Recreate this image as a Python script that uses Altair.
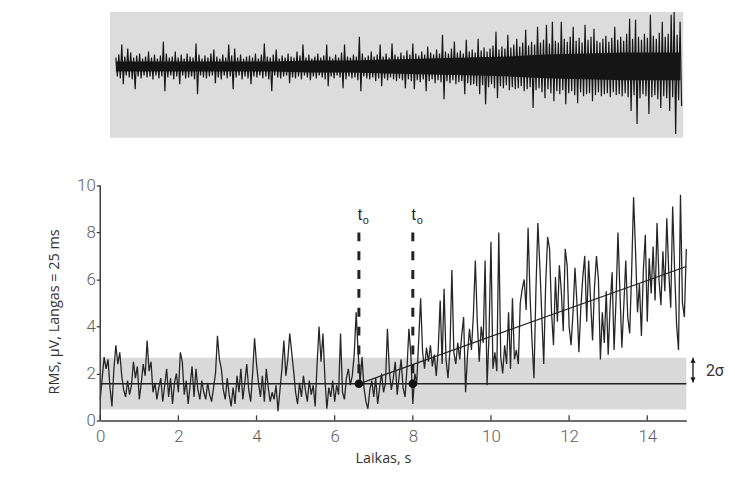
import altair as alt
import pandas as pd
import numpy as np

# ---------------- data ----------------
# RMS amplitude (µV), one value every 0.05 s from 0 to 15 s
rms_values = [
    0.9, 1.8, 2.7, 2.2, 2.6, 1.4, 0.6, 2.2, 3.2, 2.4, 2.9, 1.9, 1.3, 1.0, 1.7, 1.1, 1.5, 2.5, 1.8, 2.3,
    0.9, 1.6, 2.4, 1.9, 3.4, 2.1, 2.5, 1.2, 1.6, 0.9, 1.4, 1.8, 0.8, 1.5, 2.2, 1.0, 1.8, 0.7, 1.6, 2.0,
    1.2, 2.9, 2.5, 1.1, 1.7, 0.7, 1.5, 2.3, 1.0, 2.2, 1.3, 0.9, 1.7, 1.2, 0.9, 1.6, 1.1, 0.8, 1.4, 2.0,
    3.6, 2.6, 2.2, 1.3, 0.9, 1.8, 1.1, 0.6, 1.4, 0.7, 1.9, 1.2, 2.2, 0.9, 1.6, 2.4, 1.3, 0.8, 2.0, 3.5,
    2.4, 1.6, 1.0, 1.9, 0.8, 2.2, 1.4, 0.8, 1.2, 0.9, 1.5, 0.4, 1.3, 2.2, 3.4, 1.9, 2.6, 3.7, 2.9, 2.1,
    1.2, 0.7, 1.6, 1.0, 1.9, 1.3, 0.8, 1.7, 1.1, 1.5, 0.6, 2.4, 4.0, 2.5, 3.7, 1.8, 0.5, 1.4, 1.0, 1.7,
    0.8, 1.5, 1.1, 3.7, 1.2, 0.9, 1.8, 2.2, 1.5, 1.9, 2.8, 4.6, 2.9, 1.6, 2.7, 1.4, 0.8, 0.5, 1.3, 1.7,
    1.0, 1.8, 0.7, 1.4, 2.0, 1.2, 1.6, 3.9, 2.1, 1.3, 1.8, 2.5, 1.1, 1.9, 2.6, 1.4, 1.0, 2.2, 3.9, 2.8,
    0.7, 2.0, 1.6, 3.4, 5.2, 2.9, 2.2, 3.1, 2.5, 3.2, 2.3, 2.8, 1.9, 3.0, 5.1, 2.4, 5.6, 2.6, 1.8, 3.0,
    6.4, 2.9, 2.4, 3.3, 2.6, 3.6, 4.4, 1.2, 2.8, 3.9, 3.0, 4.5, 6.8, 4.2, 2.5, 4.0, 3.3, 6.8, 1.5, 3.6,
    7.6, 2.2, 2.9, 2.1, 8.0, 2.7, 2.0, 3.2, 2.4, 4.6, 2.2, 5.2, 2.6, 3.0, 2.4, 5.0, 5.6, 6.0, 4.7, 8.2,
    5.3, 3.4, 1.8, 5.5, 8.4, 6.6, 4.5, 2.4, 5.8, 7.8, 7.3, 4.6, 3.2, 6.1, 4.2, 6.6, 5.5, 3.8, 7.3, 6.6,
    4.0, 3.2, 4.6, 6.5, 5.0, 2.9, 4.8, 6.1, 7.0, 4.2, 6.8, 5.1, 3.4, 5.7, 7.0, 6.0, 2.6, 4.6, 3.3, 5.5,
    2.8, 4.9, 6.3, 3.0, 5.1, 8.0, 5.5, 3.1, 4.9, 6.8, 4.4, 3.7, 6.3, 9.5, 7.2, 4.6, 5.8, 3.6, 6.4, 7.9,
    4.2, 6.9, 5.4, 7.4, 5.1, 8.4, 6.0, 4.9, 7.2, 5.5, 8.6, 6.3, 4.8, 9.1, 6.4, 4.1, 3.0, 9.6, 5.0, 4.4,
    7.3,
]
rms_step = 0.05

# raw EMG trace (arbitrary units): upper and lower excursions of each sample
raw_upper = [
    9, 12, 22, 10, 18, 14, 9, 11, 13, 8,
    10, 15, 9, 12, 8, 11, 25, 13, 9, 10,
    15, 9, 12, 8, 13, 10, 9, 23, 12, 8,
    11, 9, 13, 17, 10, 8, 12, 9, 22, 11,
    18, 9, 12, 8, 10, 11, 9, 13, 8, 12,
    23, 10, 9, 12, 17, 8, 11, 9, 13, 10,
    9, 15, 11, 22, 9, 12, 8, 10, 13, 9,
    11, 22, 10, 8, 12, 9, 14, 22, 10, 9,
    12, 10, 30, 13, 9, 11, 15, 10, 12, 22,
    10, 13, 9, 23, 12, 10, 14, 11, 16, 12,
    23, 13, 11, 15, 12, 20, 14, 12, 17, 13,
    32, 15, 13, 18, 25, 14, 16, 13, 27, 15,
    17, 14, 28, 16, 19, 15, 18, 21, 35, 17,
    20, 18, 32, 19, 22, 28, 20, 24, 37, 21,
    25, 22, 40, 24, 27, 42, 23, 45, 26, 24,
    45, 28, 25, 30, 40, 26, 29, 24, 42, 27,
    30, 38, 26, 24, 28, 31, 25, 29, 40, 27,
    30, 26, 33, 48, 28, 47, 30, 27, 33, 29,
    52, 31, 28, 34, 45, 30, 33, 52, 55, 32,
    45,
]
raw_lower = [
    10, 12, 18, 9, 11, 13, 23, 10, 12, 9,
    11, 10, 13, 9, 12, 10, 25, 11, 9, 13,
    10, 18, 9, 12, 11, 10, 13, 28, 9, 11,
    12, 10, 9, 17, 11, 13, 9, 12, 10, 23,
    11, 9, 13, 10, 12, 18, 10, 11, 9, 12,
    10, 13, 25, 9, 11, 12, 10, 9, 17, 11,
    12, 10, 13, 9, 11, 14, 10, 12, 9, 11,
    13, 20, 10, 12, 9, 11, 22, 13, 10, 12,
    11, 14, 25, 10, 12, 13, 11, 15, 12, 20,
    12, 14, 11, 13, 15, 12, 14, 22, 13, 15,
    23, 14, 16, 13, 25, 15, 13, 17, 14, 16,
    33, 15, 17, 14, 18, 16, 15, 28, 17, 19,
    18, 20, 28, 19, 38, 21, 18, 22, 32, 20,
    22, 19, 24, 21, 23, 22, 20, 25, 23, 21,
    42, 24, 22, 26, 32, 23, 27, 35, 25, 28,
    24, 38, 27, 25, 29, 37, 26, 30, 28, 27,
    35, 29, 26, 30, 28, 27, 31, 26, 29, 28,
    30, 27, 31, 45, 29, 58, 32, 28, 30, 48,
    31, 29, 33, 42, 30, 32, 45, 31, 68, 34,
    40,
]
# dense core half-width of the raw trace, one value per second (0.4 s ... 14.4 s, end)
core_t = [0.4, 1.4, 2.4, 3.4, 4.4, 5.4, 6.4, 7.4, 8.4, 9.4, 10.4, 11.4, 12.4, 13.4, 14.4, 14.85]
core_half = [5, 5, 5, 5, 5, 6, 6, 7, 8, 9, 10, 12, 13, 14, 14, 14]

raw_start = 0.4
raw_step = 0.076
raw_center = 15.06
raw_units_per_y = 23.7
raw_panel = {"x1": 0.25, "x2": 14.92, "y1": 12.03, "y2": 17.38}

baseline = 1.56
band_lo, band_hi = 0.47, 2.67
onsets = [6.62, 8.0]
trend_end_x, trend_end_y = 15.0, 6.55
dash_top = 8.0
label_y = 8.52
sigma_x = 15.17
x_ticks = [0, 2, 4, 6, 8, 10, 12, 14]
y_ticks = [0, 2, 4, 6, 8, 10]

X_DOMAIN = [0, 15]
Y_DOMAIN = [0, 17.38]

# ---------------- tables ----------------
rms_df = pd.DataFrame({"t": np.arange(len(rms_values)) * rms_step, "rms": rms_values})

raw_rows = []
for i, (u, l) in enumerate(zip(raw_upper, raw_lower)):
    t = raw_start + i * raw_step
    raw_rows.append({"t": t, "v": raw_center + u / raw_units_per_y, "o": 2 * i})
    raw_rows.append({"t": t + raw_step / 2, "v": raw_center - l / raw_units_per_y, "o": 2 * i + 1})
raw_df = pd.DataFrame(raw_rows)
core_df = pd.DataFrame({
    "t": core_t,
    "hi": [raw_center + c / raw_units_per_y for c in core_half],
    "lo": [raw_center - c / raw_units_per_y for c in core_half],
})

panel_df = pd.DataFrame([raw_panel])
band_df = pd.DataFrame([{"x1": 0, "x2": 15, "y1": band_lo, "y2": band_hi}])
base_df = pd.DataFrame([{"x1": 0, "x2": 15, "y": baseline}])
trend_df = pd.DataFrame([{"x1": onsets[0], "y1": baseline, "x2": trend_end_x, "y2": trend_end_y}])
onset_df = pd.DataFrame({"x": onsets, "top": dash_top, "y": baseline, "ly": label_y})
arrow_df = pd.DataFrame([{"x": sigma_x, "y1": baseline + 0.06, "y2": band_hi}])
arrow_up = pd.DataFrame([{"x": sigma_x, "y": band_hi - 0.12}])
arrow_dn = pd.DataFrame([{"x": sigma_x, "y": baseline + 0.17}])
sig_df = pd.DataFrame([{"x": 15.5, "y": (band_hi + baseline) / 2, "label": "2σ"}])
yaxis_df = pd.DataFrame([{"x": 0, "y1": 0, "y2": 10}])
xtick_df = pd.DataFrame({"x": x_ticks, "y1": 0, "y2": 0.22})

AX_COL = "#3c3c3c"
LAB_COL = "#5e5e5e"
NUM_FONT = "Roboto"
TXT_FONT = "Open Sans"

X_SCALE = alt.Scale(domain=X_DOMAIN, nice=False, zero=False)
Y_SCALE = alt.Scale(domain=Y_DOMAIN, nice=False, zero=False)

X_AXIS = alt.Axis(values=x_ticks, format="d", grid=False, domain=True,
                  domainColor=AX_COL, domainWidth=1.5, ticks=False, tickSize=0,
                  labelPadding=8, labelFont=NUM_FONT, labelFontSize=17,
                  labelFontWeight=300, labelColor=LAB_COL, labelFlush=False,
                  title="Laikas, s", titleFont=TXT_FONT, titleFontSize=14.5,
                  titleFontWeight="normal", titleColor="#333333",
                  titleX=285, titleY=38, titleBaseline="middle", titleAlign="center")
Y_AXIS = alt.Axis(values=y_ticks, format="d", grid=False, domain=False,
                  ticks=True, tickSize=4, tickColor=AX_COL, tickWidth=1.3,
                  labelPadding=1, labelFont=NUM_FONT, labelFontSize=17,
                  labelFontWeight=300, labelColor=LAB_COL, labelFlush=False,
                  title="RMS, μV, Langas = 25 ms", titleFont=TXT_FONT,
                  titleFontSize=14.5, titleFontWeight="normal", titleColor="#333333",
                  titleX=-46, titleY=302, titleAngle=270, titleBaseline="middle",
                  titleAlign="center")


def X(f):
    return alt.X(f, scale=X_SCALE, axis=X_AXIS)


def Y(f):
    return alt.Y(f, scale=Y_SCALE, axis=Y_AXIS)


panel = alt.Chart(panel_df).mark_rect(color="#dcdcdc").encode(
    x=X("x1:Q"), x2="x2:Q", y=Y("y1:Q"), y2="y2:Q")

core = alt.Chart(core_df).mark_area(color="#161616", opacity=1).encode(
    x=X("t:Q"), y=Y("lo:Q"), y2="hi:Q")

raw = alt.Chart(raw_df).mark_line(color="#161616", strokeWidth=1.2).encode(
    x=X("t:Q"), y=Y("v:Q"), order="o:Q")

band = alt.Chart(band_df).mark_rect(color="#d9d9d9").encode(
    x=X("x1:Q"), x2="x2:Q", y=Y("y1:Q"), y2="y2:Q")

rms = alt.Chart(rms_df).mark_line(color="#262626", strokeWidth=1.3).encode(
    x=X("t:Q"), y=Y("rms:Q"))

base = alt.Chart(base_df).mark_rule(color="#222222", strokeWidth=1.5).encode(
    x=X("x1:Q"), x2="x2:Q", y=Y("y:Q"))

trend = alt.Chart(trend_df).mark_rule(color="#222222", strokeWidth=1.3).encode(
    x=X("x1:Q"), x2="x2:Q", y=Y("y1:Q"), y2="y2:Q")

dashes = alt.Chart(onset_df).mark_rule(color="#222222", strokeWidth=3, strokeDash=[9, 10]).encode(
    x=X("x:Q"), y=Y("top:Q"), y2="y:Q")

dots = alt.Chart(onset_df).mark_circle(color="#111111", size=75, opacity=1).encode(
    x=X("x:Q"), y=Y("y:Q"))

t_lab = alt.Chart(onset_df).mark_text(text="t", font="Liberation Sans", fontSize=16,
                                      color="#222222", baseline="alphabetic", dx=1).encode(
    x=X("x:Q"), y=Y("ly:Q"))
o_lab = alt.Chart(onset_df).mark_text(text="o", font="Liberation Sans", fontSize=11,
                                      color="#222222", baseline="alphabetic", dx=7, dy=4).encode(
    x=X("x:Q"), y=Y("ly:Q"))

arrow = alt.Chart(arrow_df).mark_rule(color="#111111", strokeWidth=1.3).encode(
    x=X("x:Q"), y=Y("y1:Q"), y2="y2:Q")
head_up = alt.Chart(arrow_up).mark_point(shape="triangle-up", filled=True, size=28,
                                         color="#111111", opacity=1).encode(
    x=X("x:Q"), y=Y("y:Q"))
head_dn = alt.Chart(arrow_dn).mark_point(shape="triangle-down", filled=True, size=28,
                                         color="#111111", opacity=1).encode(
    x=X("x:Q"), y=Y("y:Q"))
sig = alt.Chart(sig_df).mark_text(font=NUM_FONT, fontSize=16, color="#333333",
                                  align="left", baseline="middle").encode(
    x=X("x:Q"), y=Y("y:Q"), text="label:N")

yaxis = alt.Chart(yaxis_df).mark_rule(color=AX_COL, strokeWidth=1.5).encode(
    x=X("x:Q"), y=Y("y1:Q"), y2="y2:Q")
xticks = alt.Chart(xtick_df).mark_rule(color=AX_COL, strokeWidth=1.3).encode(
    x=X("x:Q"), y=Y("y1:Q"), y2="y2:Q")

chart = alt.layer(
    panel, core, raw, band, rms, base, trend, dashes, dots, t_lab, o_lab,
    arrow, head_up, head_dn, sig, yaxis, xticks
).properties(
    width=591, height=412,
    autosize=alt.AutoSizeParams(type="none"),
    padding={"left": 93, "top": 2, "right": 41, "bottom": 50},
    background="white",
).configure_view(stroke=None)

chart.save("out.html", embed_options={"renderer": "svg", "actions": False})
